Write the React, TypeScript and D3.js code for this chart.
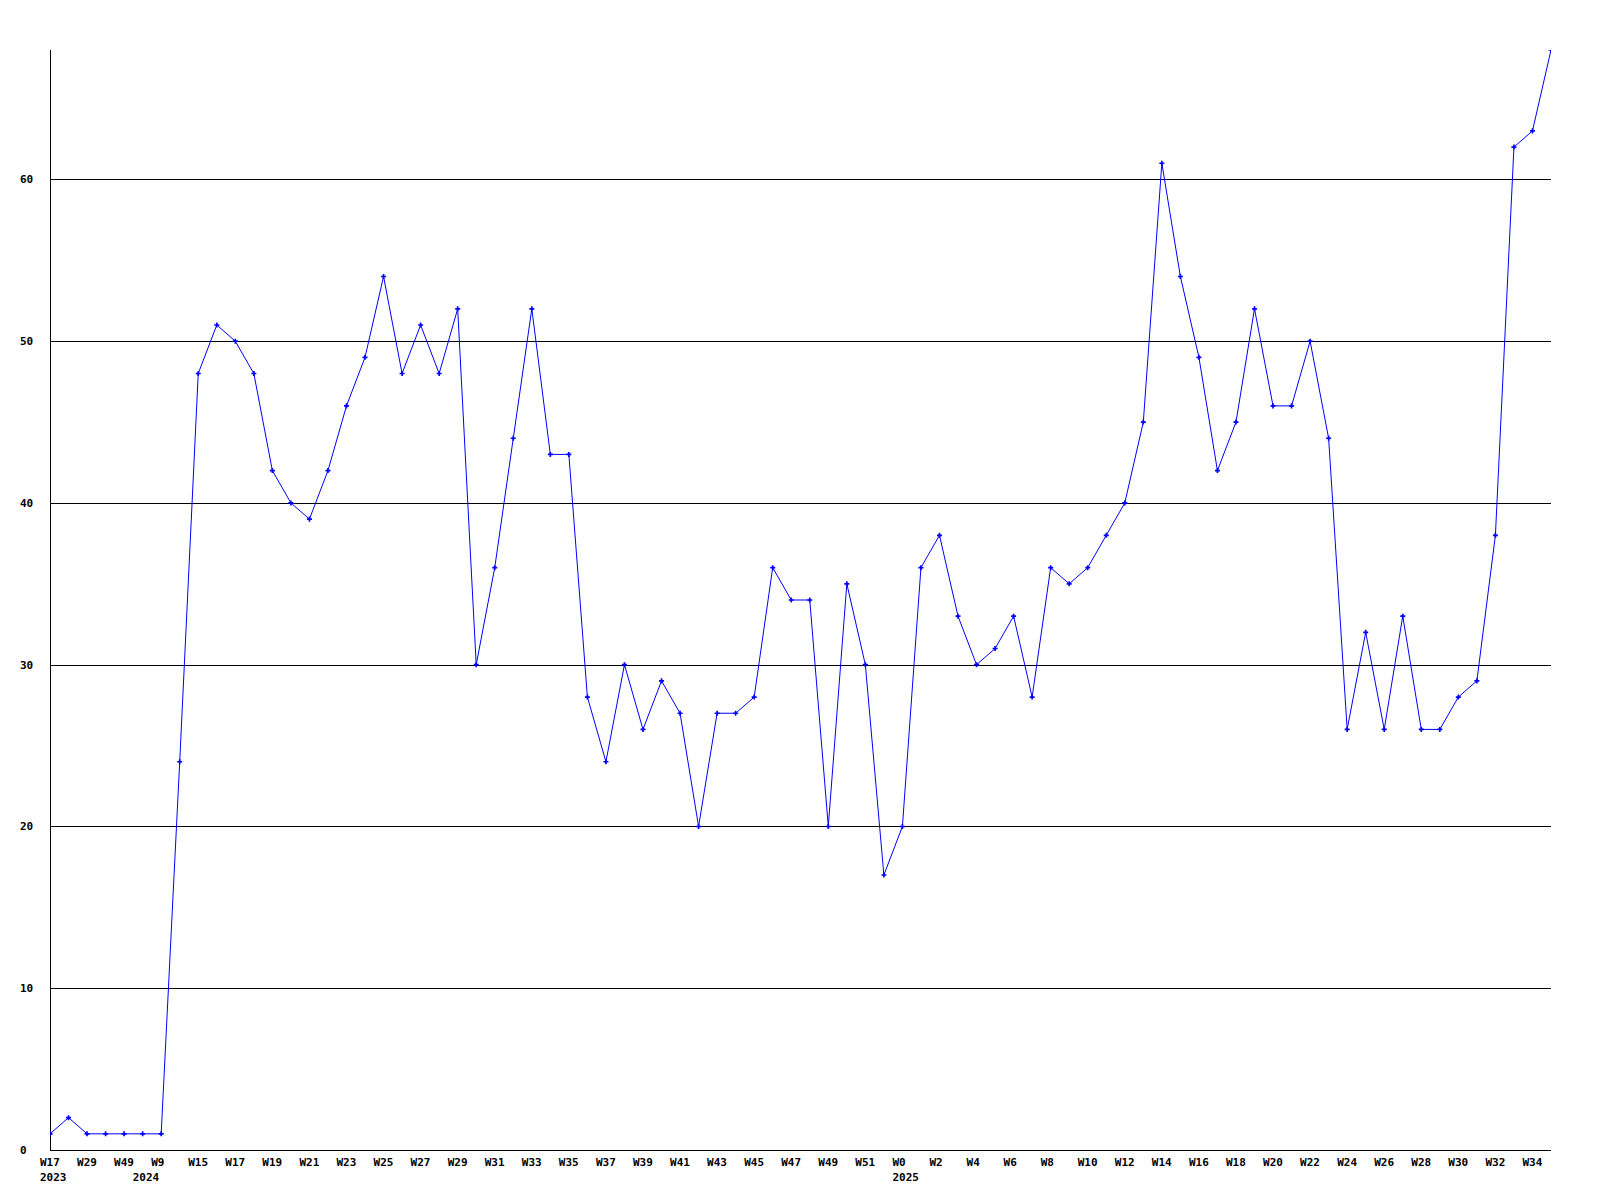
import React from "react";
import * as d3 from "d3";

const weeks: string[] = [
  "W17", "W23", "W29", "W40", "W49", "W1", "W9", "W14", "W15", "W16",
  "W17", "W18", "W19", "W20", "W21", "W22", "W23", "W24", "W25", "W26",
  "W27", "W28", "W29", "W30", "W31", "W32", "W33", "W34", "W35", "W36",
  "W37", "W38", "W39", "W40", "W41", "W42", "W43", "W44", "W45", "W46",
  "W47", "W48", "W49", "W50", "W51", "W52", "W0", "W1", "W2", "W3",
  "W4", "W5", "W6", "W7", "W8", "W9", "W10", "W11", "W12", "W13",
  "W14", "W15", "W16", "W17", "W18", "W19", "W20", "W21", "W22", "W23",
  "W24", "W25", "W26", "W27", "W28", "W29", "W30", "W31", "W32", "W33",
  "W34", "W35",
];

const values: number[] = [
  1, 2, 1, 1, 1, 1, 1, 24, 48, 51,
  50, 48, 42, 40, 39, 42, 46, 49, 54, 48,
  51, 48, 52, 30, 36, 44, 52, 43, 43, 28,
  24, 30, 26, 29, 27, 20, 27, 27, 28, 36,
  34, 34, 20, 35, 30, 17, 20, 36, 38, 33,
  30, 31, 33, 28, 36, 35, 36, 38, 40, 45,
  61, 54, 49, 42, 45, 52, 46, 46, 50, 44,
  26, 32, 26, 33, 26, 26, 28, 29, 38, 62,
  63, 68,
];

// year label placed at the index of the first week of that year
const yearMarks: { index: number; label: string }[] = [
  { index: 0, label: "2023" },
  { index: 5, label: "2024" },
  { index: 46, label: "2025" },
];

const yTicks: number[] = [0, 10, 20, 30, 40, 50, 60];
const yMax = 68;

export default function App() {
  const width = 1600;
  const height = 1200;
  const left = 50;
  const right = 1551;
  const top = 50;
  const bottom = 1150;

  const x = d3.scaleLinear().domain([0, values.length - 1]).range([left, right]);
  const y = d3.scaleLinear().domain([0, yMax]).range([bottom, top]);

  const line = d3
    .line<number>()
    .x((_, i) => x(i))
    .y((d) => y(d));

  const marker = d3.symbol().type(d3.symbolCross).size(14)();

  const font = "'DejaVu Sans Mono', monospace";

  return (
    <svg
      width={width}
      height={height}
      style={{ position: "absolute", left: 0, top: 0, background: "#fff" }}
    >
      <defs>
        <clipPath id="plot">
          <rect x={left} y={top} width={right - left} height={bottom - top} />
        </clipPath>
      </defs>
      <rect x={0} y={0} width={width} height={height} fill="#fff" />
      {yTicks
        .filter((t) => t > 0)
        .map((t) => (
          <line
            key={"g" + t}
            x1={left}
            x2={right}
            y1={Math.round(y(t)) + 0.5}
            y2={Math.round(y(t)) + 0.5}
            stroke="#000"
            strokeWidth={1}
          />
        ))}
      <line x1={left} x2={right} y1={bottom + 0.5} y2={bottom + 0.5} stroke="#000" />
      <line x1={left + 0.5} x2={left + 0.5} y1={top} y2={bottom} stroke="#000" />
      {yTicks.map((t) => (
        <text
          key={"y" + t}
          x={20}
          y={Math.round(y(t))}
          dy="0.35em"
          fontFamily={font}
          fontWeight="bold"
          fontSize={11}
          fill="#000"
        >
          {t}
        </text>
      ))}
      {weeks.map((w, i) =>
        i % 2 === 0 ? (
          <text
            key={"x" + i}
            x={x(i) - 10}
            y={1162}
            dy="0.35em"
            fontFamily={font}
            fontWeight="bold"
            fontSize={11}
            fill="#000"
          >
            {w}
          </text>
        ) : null
      )}
      {yearMarks.map((m) => (
        <text
          key={"yr" + m.label}
          x={x(m.index) - 10}
          y={1177}
          dy="0.35em"
          fontFamily={font}
          fontWeight="bold"
          fontSize={11}
          fill="#000"
        >
          {m.label}
        </text>
      ))}
      <g clipPath="url(#plot)">
        <path d={line(values) || ""} fill="none" stroke="#0000ff" strokeWidth={1} />
        {values.map((v, i) => (
          <path
            key={"m" + i}
            d={marker || ""}
            transform={`translate(${x(i)},${y(v)})`}
            fill="#0000ff"
          />
        ))}
      </g>
    </svg>
  );
}
